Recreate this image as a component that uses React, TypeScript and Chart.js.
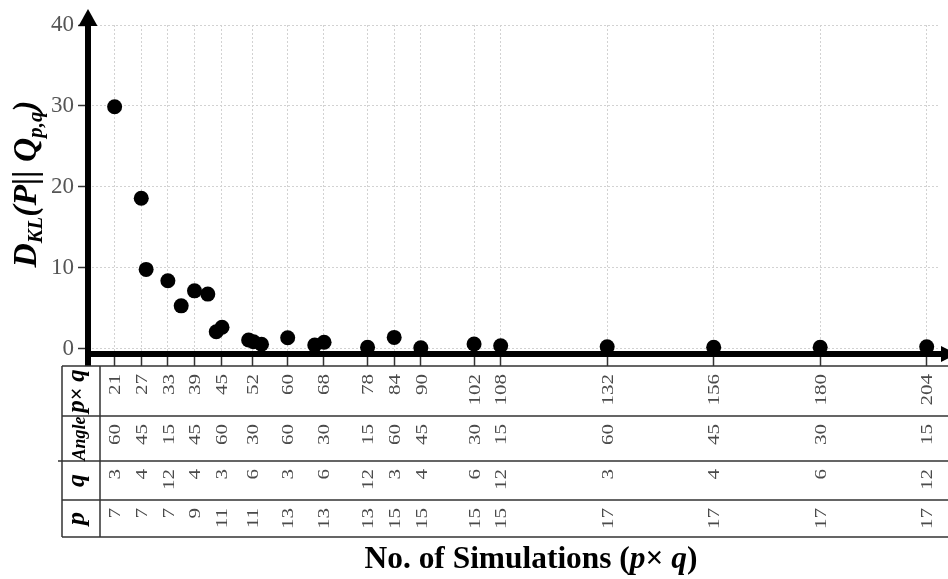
import React, { useEffect, useRef } from "react";
import { Chart, registerables } from "chart.js";

Chart.register(...registerables);

// ---- data ----
const pqValues = [21, 27, 33, 39, 45, 52, 60, 68, 78, 84, 90, 102, 108, 132, 156, 180, 204];
const angleValues = [60, 45, 15, 45, 60, 30, 60, 30, 15, 60, 45, 30, 15, 60, 45, 30, 15];
const qValues = [3, 4, 12, 4, 3, 6, 3, 6, 12, 3, 4, 6, 12, 3, 4, 6, 12];
const pValues = [7, 7, 7, 9, 11, 11, 13, 13, 13, 15, 15, 15, 15, 17, 17, 17, 17];

const pointX = [21, 27, 28.1, 33, 36, 39, 42, 43.9, 45.2, 51.2, 52.3, 54.1, 60, 66.1, 68.2, 78, 84, 90, 102, 108, 132, 156, 180, 204];
const pointY = [29.9, 18.6, 9.8, 8.4, 5.3, 7.15, 6.75, 2.1, 2.65, 1.08, 0.87, 0.55, 1.36, 0.45, 0.8, 0.17, 1.4, 0.12, 0.58, 0.37, 0.25, 0.17, 0.17, 0.25];

const yTicks = [0, 10, 20, 30, 40];

const SERIF = '"Liberation Serif", "Times New Roman", serif';

type Run = { text: string; style: string; rel: number; dy?: number };

function runsWidth(ctx: CanvasRenderingContext2D, runs: Run[], size: number) {
  let w = 0;
  for (const r of runs) {
    ctx.font = `${r.style} ${size * r.rel}px ${SERIF}`;
    w += ctx.measureText(r.text).width;
  }
  return w;
}

function drawRuns(ctx: CanvasRenderingContext2D, runs: Run[], size: number, x: number, y: number) {
  const total = runsWidth(ctx, runs, size);
  let cx = x - total / 2;
  ctx.textAlign = "left";
  ctx.textBaseline = "alphabetic";
  for (const r of runs) {
    ctx.font = `${r.style} ${size * r.rel}px ${SERIF}`;
    ctx.fillText(r.text, cx, y + (r.dy || 0) * size);
    cx += ctx.measureText(r.text).width;
  }
}

function fitSize(ctx: CanvasRenderingContext2D, runs: Run[], target: number) {
  const base = 20;
  return (base * target) / runsWidth(ctx, runs, base);
}

const decorPlugin = {
  id: "decor",
  beforeDatasetsDraw(chart: any) {
    const { ctx, chartArea: a } = chart;
    const tableTop = a.bottom + 12;
    ctx.save();
    ctx.fillStyle = "#000";
    // y axis
    ctx.fillRect(a.left - 3, a.top - 2, 6, tableTop - a.top + 2);
    // x axis
    ctx.fillRect(a.left - 3, a.bottom - 3, a.right + 2 - (a.left - 3), 6);
    // top arrow
    ctx.beginPath();
    ctx.moveTo(a.left, a.top - 16);
    ctx.lineTo(a.left + 9.5, a.top + 1);
    ctx.lineTo(a.left - 9.5, a.top + 1);
    ctx.closePath();
    ctx.fill();
    // right arrow
    ctx.beginPath();
    ctx.moveTo(a.right + 17, a.bottom);
    ctx.lineTo(a.right + 1, a.bottom - 8);
    ctx.lineTo(a.right + 1, a.bottom + 8);
    ctx.closePath();
    ctx.fill();
    ctx.restore();
  },
  afterDraw(chart: any) {
    const { ctx, chartArea: a } = chart;
    const xs = chart.scales.x;
    const W = chart.width;
    const top = a.bottom + 12;
    const rows = [
      { key: "pq", top: top, bottom: top + 50, values: pqValues },
      { key: "angle", top: top + 50, bottom: top + 95, values: angleValues },
      { key: "q", top: top + 95, bottom: top + 134, values: qValues },
      { key: "p", top: top + 134, bottom: top + 171, values: pValues },
    ];
    const tLeft = 62;
    const tDiv = 100;
    ctx.save();
    // lines
    ctx.strokeStyle = "#333";
    ctx.lineWidth = 1.5;
    ctx.beginPath();
    ctx.moveTo(tLeft, top);
    ctx.lineTo(W, top);
    rows.forEach((r, i) => {
      ctx.moveTo(i === 1 ? 58 : tLeft, r.bottom);
      ctx.lineTo(W, r.bottom);
    });
    ctx.moveTo(tLeft, top);
    ctx.lineTo(tLeft, rows[3].bottom);
    ctx.moveTo(tDiv, top);
    ctx.lineTo(tDiv, rows[3].bottom);
    ctx.stroke();

    // values
    const vSize = 21;
    ctx.fillStyle = "#4a4a4a";
    ctx.font = `${vSize}px ${SERIF}`;
    ctx.textAlign = "right";
    ctx.textBaseline = "alphabetic";
    rows.forEach((r) => {
      r.values.forEach((v, i) => {
        const px = xs.getPixelForValue(pqValues[i]);
        ctx.save();
        ctx.translate(px, r.top + 8);
        ctx.rotate(-Math.PI / 2);
        ctx.scale(1, 0.8);
        ctx.fillText(String(v), 0, vSize * 0.34);
        ctx.restore();
      });
    });

    // row labels
    ctx.fillStyle = "#000";
    const lx = (tLeft + tDiv) / 2;
    const labelRuns: Record<string, { runs: Run[]; size: number; off: number }> = {
      pq: {
        runs: [
          { text: "p", style: "italic bold", rel: 1 },
          { text: "\u00d7 ", style: "bold", rel: 0.9 },
          { text: "q", style: "italic bold", rel: 1 },
        ],
        size: 25,
        off: 0.12,
      },
      angle: { runs: [{ text: "Angle", style: "italic bold", rel: 1 }], size: 18, off: 0.22 },
      q: { runs: [{ text: "q", style: "italic bold", rel: 1 }], size: 26, off: 0.12 },
      p: { runs: [{ text: "p", style: "italic bold", rel: 1 }], size: 26, off: 0.12 },
    };
    rows.forEach((r) => {
      const L = labelRuns[r.key];
      ctx.save();
      ctx.translate(lx, (r.top + r.bottom) / 2);
      ctx.rotate(-Math.PI / 2);
      drawRuns(ctx, L.runs, L.size, 0, L.size * L.off);
      ctx.restore();
    });

    // y-axis title
    const yRuns: Run[] = [
      { text: "D", style: "italic bold", rel: 1 },
      { text: "KL", style: "italic bold", rel: 0.62, dy: 0.2 },
      { text: "(P|| Q", style: "italic bold", rel: 1 },
      { text: "p,q", style: "italic bold", rel: 0.62, dy: 0.2 },
      { text: ")", style: "italic bold", rel: 1 },
    ];
    const ySize = fitSize(ctx, yRuns, 167);
    ctx.save();
    ctx.fillStyle = "#000";
    ctx.translate(24.5, 184);
    ctx.rotate(-Math.PI / 2);
    drawRuns(ctx, yRuns, ySize, 0, ySize * 0.33);
    ctx.restore();

    // x-axis title
    const xRuns: Run[] = [
      { text: "No. of Simulations (", style: "bold", rel: 1 },
      { text: "p", style: "italic bold", rel: 1 },
      { text: "\u00d7 ", style: "bold", rel: 1 },
      { text: "q", style: "italic bold", rel: 1 },
      { text: ")", style: "bold", rel: 1 },
    ];
    const xSize = fitSize(ctx, xRuns, 333);
    ctx.fillStyle = "#000";
    drawRuns(ctx, xRuns, xSize, 531, 568);
    ctx.restore();
  },
};

export default function App() {
  const ref = useRef<HTMLCanvasElement>(null);
  useEffect(() => {
    const canvas = ref.current!;
    const chart = new Chart(canvas, {
      type: "scatter",
      data: {
        datasets: [
          {
            data: pointX.map((x, i) => ({ x, y: pointY[i] })),
            pointRadius: 7.5,
            pointHoverRadius: 7.5,
            backgroundColor: "#000",
            borderColor: "#000",
            borderWidth: 0,
          },
        ],
      },
      options: {
        responsive: false,
        animation: false,
        devicePixelRatio: 1,
        layout: { padding: { top: 25, right: 8, left: 0, bottom: 0 } },
        plugins: {
          legend: { display: false },
          tooltip: { enabled: false },
          title: { display: false },
        },
        scales: {
          x: {
            type: "linear",
            min: 15,
            max: 207,
            afterBuildTicks: (s: any) => {
              s.ticks = pqValues.map((v) => ({ value: v }));
            },
            afterFit: (s: any) => {
              s.height = 225;
            },
            ticks: { display: false, autoSkip: false },
            grid: { color: "#d2d2d2", lineWidth: 1, tickColor: "#333", tickLength: 12, tickWidth: 1.5 },
            border: { display: false, dash: [2, 2] },
          },
          y: {
            type: "linear",
            min: -0.65,
            max: 40,
            afterBuildTicks: (s: any) => {
              s.ticks = yTicks.map((v) => ({ value: v }));
            },
            afterFit: (s: any) => {
              s.width = 88;
            },
            ticks: { color: "#555", font: { family: SERIF, size: 23 }, padding: 4 },
            grid: { color: "#d2d2d2", lineWidth: 1, tickColor: "#333", tickLength: 10, tickWidth: 1.5 },
            border: { display: false, dash: [2, 2] },
          },
        },
      } as any,
      plugins: [decorPlugin as any],
    });
    return () => chart.destroy();
  }, []);
  return (
    <div style={{ position: "fixed", left: 0, top: 0, width: 948, height: 579, background: "#fff" }}>
      <canvas ref={ref} width={948} height={579} style={{ display: "block" }} />
    </div>
  );
}
